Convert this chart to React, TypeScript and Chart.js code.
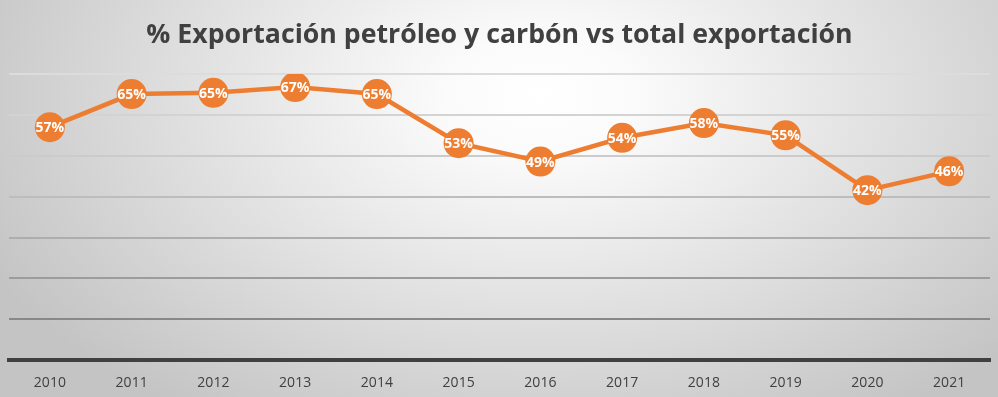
import React, { useEffect, useRef } from "react";
import { Chart, registerables } from "chart.js";

Chart.register(...registerables);

const title = "% Exportación petróleo y carbón vs total exportación";
const years = ["2010", "2011", "2012", "2013", "2014", "2015", "2016", "2017", "2018", "2019", "2020", "2021"];
const shareValues = [57.0, 65.1, 65.4, 66.8, 65.1, 53.1, 48.6, 54.4, 58.0, 55.0, 41.6, 46.2];
const gridTicks = [0, 10, 20, 30, 40, 50, 60, 70];

const ORANGE = "#ED7D31";

const bgPlugin = {
  id: "bgGradient",
  beforeDraw(chart: any) {
    const { ctx, width, height } = chart;
    ctx.save();
    ctx.translate(540, 95);
    ctx.scale(1, 0.62);
    const g = ctx.createRadialGradient(0, 0, 0, 0, 0, 620);
    g.addColorStop(0, "#ffffff");
    g.addColorStop(0.15, "#fbfbfb");
    g.addColorStop(1, "#c4c4c4");
    ctx.fillStyle = g;
    ctx.fillRect(-540, -95 / 0.62, width, height / 0.62 + 200);
    ctx.restore();
  },
};

const labelPlugin = {
  id: "pointLabels",
  afterDatasetsDraw(chart: any) {
    const { ctx } = chart;
    const meta = chart.getDatasetMeta(0);
    const data = chart.data.datasets[0].data as number[];
    ctx.save();
    ctx.font = "bold 14px 'Open Sans'";
    ctx.fillStyle = "#ffffff";
    ctx.textAlign = "center";
    ctx.textBaseline = "middle";
    meta.data.forEach((pt: any, i: number) => {
      ctx.fillText(Math.round(data[i]) + "%", pt.x, pt.y + 1);
    });
    ctx.restore();
  },
};

const gridColors: Record<number, string> = {
  70: "#dcdcdc",
  60: "#d3d3d3",
  50: "#cbcbcb",
  40: "#bdbdbd",
  30: "#adadad",
  20: "#9c9c9c",
  10: "#888888",
  0: "rgba(0,0,0,0)",
};

export default function App() {
  const ref = useRef<HTMLCanvasElement>(null);
  useEffect(() => {
    if (!ref.current) return;
    const chart = new Chart(ref.current, {
      type: "line",
      data: {
        labels: years,
        datasets: [
          {
            data: shareValues,
            borderColor: ORANGE,
            backgroundColor: ORANGE,
            borderWidth: 4.5,
            pointRadius: 15,
            pointHoverRadius: 15,
            pointBackgroundColor: ORANGE,
            pointBorderWidth: 0,
            tension: 0,
          },
        ],
      },
      options: {
        animation: false,
        responsive: false,
        maintainAspectRatio: false,
        layout: { autoPadding: false, padding: { left: 9, right: 8, top: 0, bottom: 0 } },
        plugins: {
          legend: { display: false },
          tooltip: { enabled: false },
          title: {
            display: true,
            text: title,
            color: "#404040",
            font: { family: "'Open Sans'", size: 26.7, weight: "bold" },
            padding: { top: 19, bottom: 23 },
          },
        },
        scales: {
          x: {
            offset: true,
            grid: { display: false },
            border: { display: true, color: "#404040", width: 4 },
            ticks: {
              color: "#404040",
              font: { family: "'Open Sans'", size: 14 },
              padding: 6,
              maxRotation: 0,
            },
            afterFit(axis: any) {
              axis.paddingLeft = 0;
              axis.paddingRight = 0;
            },
          },
          y: {
            min: 0,
            max: 70,
            afterBuildTicks(axis: any) {
              axis.ticks = gridTicks.map((v) => ({ value: v }));
            },
            afterFit(axis: any) {
              axis.width = 0;
            },
            ticks: { display: false },
            border: { display: false },
            grid: {
              drawTicks: false,
              lineWidth: 2,
              color: (c: any) => gridColors[c.tick?.value] ?? "#cccccc",
            },
          },
        },
      },
      plugins: [bgPlugin, labelPlugin],
    });
    return () => chart.destroy();
  }, []);
  return (
    <div style={{ position: "fixed", left: 0, top: 0, width: 998, height: 397 }}>
      <canvas ref={ref} width={998} height={397} style={{ display: "block" }} />
    </div>
  );
}
